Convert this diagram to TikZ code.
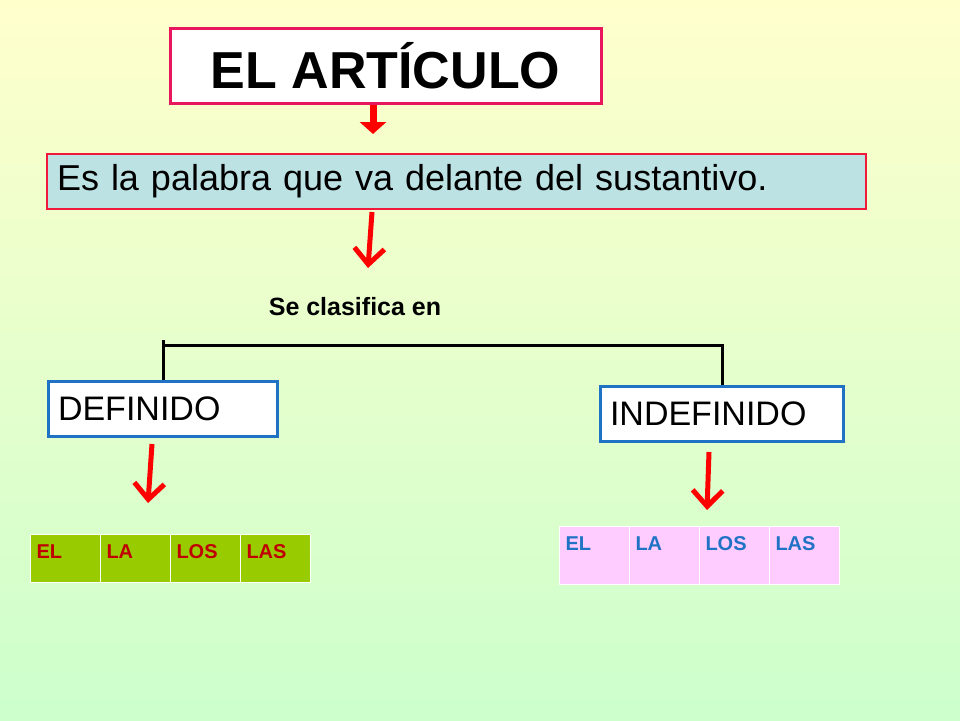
\documentclass[tikz,border=0pt]{standalone}
\usepackage{fontspec}
\setmainfont{Liberation Sans}
\usetikzlibrary{arrows.meta}
\definecolor{titlered}{HTML}{E8175D}
\definecolor{boxred}{HTML}{F0193C}
\definecolor{boxblue}{HTML}{1F72C4}
\definecolor{defblue}{HTML}{BDE2E4}
\definecolor{tabgreen}{HTML}{99CC00}
\definecolor{tabpink}{HTML}{FFCCFF}
\definecolor{textred}{HTML}{C00000}
\tikzset{
  titlebox/.style={draw=titlered,line width=3pt,fill=white,minimum width=431pt,minimum height=75pt,font=\fontsize{52}{58}\selectfont\bfseries},
  kindbox/.style={draw=boxblue,line width=3pt,fill=white,minimum height=55pt,text width=#1,inner xsep=10pt,align=left,font=\fontsize{34}{38}\selectfont},
  redarrow/.style={red,line width=5pt,-{Straight Barb[length=16pt,width=30pt]}},
  cell/.style={minimum width=70pt,text width=58pt,align=left,anchor=north west,font=\fontsize{20}{22}\selectfont\bfseries,draw=white,line width=1pt,inner ysep=10pt,text depth=#1}
}
\begin{document}
\begin{tikzpicture}[x=1pt,y=-1pt]
  \shade[top color=yellow!20,bottom color=green!20] (0,0) rectangle (960,720);
  \useasboundingbox (0,0) rectangle (960,720);

  \node[titlebox] (title) at (385.5,65.5) {EL ARTÍCULO};
  \node[draw=boxred,line width=2.5pt,fill=defblue,minimum height=55pt,text width=799pt,inner xsep=10pt,align=left,font=\fontsize{36}{40}\selectfont] (def) at (456.5,181.5) {Es la palabra que va delante del sustantivo.};
  \draw[red,line width=7pt,-{Triangle[length=12pt,width=26pt]}] (title.south -| 373,0) -- (373,134);
  \draw[redarrow] (372,212) -- (368,268);

  \node[font=\fontsize{25}{28}\selectfont\bfseries] (clas) at (355,307) {Se clasifica en};

  \node[kindbox=209pt] (defin) at (162.5,408.5) {DEFINIDO};
  \node[kindbox=223pt] (indef) at (721.5,413.5) {INDEFINIDO};

  % bracket
  \coordinate (bl) at (163,345);
  \coordinate (br) at (722,345);
  \draw[line width=3pt] (163,340) -- (defin.north -| bl);
  \draw[line width=3pt] (bl) -- (br) -- (indef.north -| br);

  \draw[redarrow] (152,444) -- (148,503);
  \draw[redarrow] (709,452) -- (707,510);

  % tables
  \foreach \w [count=\i from 0] in {EL,LA,LOS,LAS} {
    \node[cell=14pt,fill=tabgreen,text=textred] (g\i) at (30+70*\i,534) {\w};
    \node[cell=24pt,fill=tabpink,text=boxblue] (p\i) at (559+70*\i,526) {\w};
  }
\end{tikzpicture}
\end{document}
